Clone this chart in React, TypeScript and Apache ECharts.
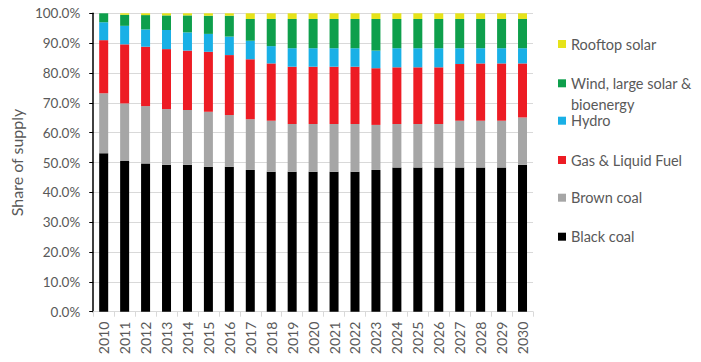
import React, { useEffect, useRef } from "react";
import * as echarts from "echarts";

const years = ["2010","2011","2012","2013","2014","2015","2016","2017","2018","2019","2020","2021","2022","2023","2024","2025","2026","2027","2028","2029","2030"];
const blackCoal = [53.1,50.5,49.7,49.2,49.2,48.6,48.6,47.5,46.9,46.9,46.9,46.9,46.9,47.5,48.3,48.3,48.3,48.3,48.3,48.3,49.2];
const brownCoal = [20.1,19.3,19.2,18.7,18.4,18.4,17.3,17.0,17.1,16.0,16.0,16.0,16.0,15.1,14.6,14.6,14.6,15.7,15.7,15.7,15.9];
const gasLiquid = [17.8,19.8,19.9,20.1,19.9,20.1,20.1,20.1,19.2,19.2,19.2,19.2,19.2,19.0,19.0,19.0,19.0,19.0,19.2,19.2,18.1];
const hydro = [6.0,6.2,5.8,6.4,6.1,6.0,6.2,6.2,5.8,6.2,6.2,6.2,6.2,5.9,6.4,6.4,6.4,5.3,5.1,5.1,5.1];
const windSolarBio = [3.0,3.7,4.8,4.9,5.7,6.1,7.0,7.3,9.1,9.8,9.8,9.8,9.8,10.6,9.8,9.8,9.8,9.8,9.8,9.8,9.8];
const rooftopSolar = [0.0,0.5,0.6,0.7,0.7,0.8,0.8,1.9,1.9,1.9,1.9,1.9,1.9,1.9,1.9,1.9,1.9,1.9,1.9,1.9,1.9];
const yTicks = [0,10,20,30,40,50,60,70,80,90,100];

const FONT = "Lato, 'Open Sans', sans-serif";
const GREY_TEXT = "#595959";

const seriesDefs = [
  { name: "Black coal", data: blackCoal, color: "#000000" },
  { name: "Brown coal", data: brownCoal, color: "#a6a6a6" },
  { name: "Gas & Liquid Fuel", data: gasLiquid, color: "#ed1c24" },
  { name: "Hydro", data: hydro, color: "#19b0e6" },
  { name: "Wind, large solar & bioenergy", data: windSolarBio, color: "#0e9f4c" },
  { name: "Rooftop solar", data: rooftopSolar, color: "#e6e31a" },
];

const legendCenters: Record<string, number> = {
  "Rooftop solar": 44,
  "Wind, large solar & bioenergy": 83.3,
  "Hydro": 120.7,
  "Gas & Liquid Fuel": 160,
  "Brown coal": 197.7,
  "Black coal": 236.7,
};

export default function App() {
  const ref = useRef<HTMLDivElement>(null);
  useEffect(() => {
    if (!ref.current) return;
    const chart = echarts.init(ref.current, undefined, { renderer: "svg" });
    const legends = seriesDefs.map((s) => {
      const isWind = s.name.startsWith("Wind");
      const c = legendCenters[s.name];
      return {
        show: true,
        orient: "vertical",
        left: 558,
        top: isWind ? c - 31.5 : c - 9,
        padding: 0,
        itemWidth: 8,
        itemHeight: 8,
        icon: "rect",
        selectedMode: false,
        data: [s.name],
        formatter: isWind ? () => "\nWind, large solar &\nbioenergy" : undefined,
        textStyle: isWind
          ? { color: GREY_TEXT, fontSize: 14.5, fontFamily: FONT, lineHeight: 21 }
          : { color: GREY_TEXT, fontSize: 14.5, fontFamily: FONT, lineHeight: 18 },
      };
    });
    chart.setOption({
      animation: false,
      textStyle: { fontFamily: FONT },
      grid: { left: 82, right: 168, top: 13.3, bottom: 50.3, containLabel: false },
      legend: legends,
      xAxis: {
        type: "category",
        data: years,
        axisLine: { show: true, lineStyle: { color: "#d9d9d9", width: 1 } },
        axisTick: { show: true, alignWithLabel: false, length: 5, lineStyle: { color: "#d9d9d9" } },
        axisLabel: { rotate: 90, color: GREY_TEXT, fontSize: 14, fontFamily: FONT, margin: 10, interval: 0 },
      },
      yAxis: {
        type: "value",
        min: yTicks[0],
        max: yTicks[yTicks.length - 1],
        interval: 10,
        name: "Share of supply",
        nameLocation: "middle",
        nameGap: 60,
        nameTextStyle: { color: GREY_TEXT, fontSize: 16, fontFamily: FONT },
        axisLine: { show: true, lineStyle: { color: "#000000", width: 1.5 } },
        axisTick: { show: true, length: 4, lineStyle: { color: "#000000" } },
        axisLabel: { color: GREY_TEXT, fontSize: 13.5, fontFamily: FONT, margin: 13, formatter: (v: number) => v.toFixed(1) + "%" },
        splitLine: { show: true, lineStyle: { color: "#d9d9d9", width: 1 } },
      },
      series: seriesDefs.map((s) => ({
        name: s.name,
        type: "bar",
        stack: "total",
        barWidth: 9,
        data: s.data,
        itemStyle: { color: s.color },
      })),
    });
    return () => chart.dispose();
  }, []);
  return <div ref={ref} style={{ width: 701, height: 362, margin: -8 }} />;
}
